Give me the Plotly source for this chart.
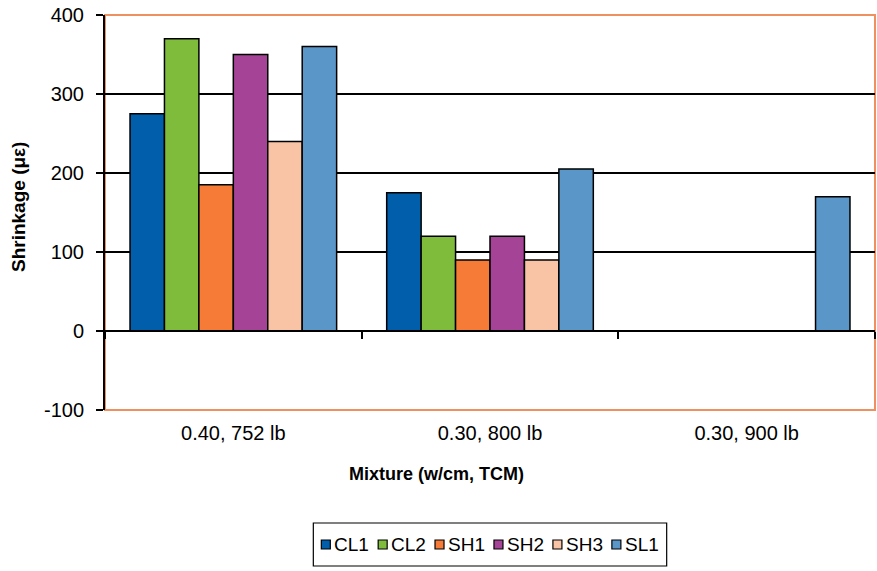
import plotly.graph_objects as go

categories = ["0.40, 752 lb", "0.30, 800 lb", "0.30, 900 lb"]
series_names = ["CL1", "CL2", "SH1", "SH2", "SH3", "SL1"]
CL1 = [275, 175, None]
CL2 = [370, 120, None]
SH1 = [185, 90, None]
SH2 = [350, 120, None]
SH3 = [240, 90, None]
SL1 = [360, 205, 170]
series_values = [CL1, CL2, SH1, SH2, SH3, SL1]
colors = ["#005EAB", "#80BC3C", "#F57B36", "#A54496", "#F9C4A6", "#5A97C8"]
y_ticks = [-100, 0, 100, 200, 300, 400]
y_tick_labels = [str(v) for v in y_ticks]

FONT = "Liberation Sans, Arial, sans-serif"
W, H = 877, 571
ML, MR, MT, MB = 105, 2, 15, 161
PW, PH = W - ML - MR, H - MT - MB


def px_x(px):
    return (px - ML) / PW


def px_y(py):
    return (H - MB - py) / PH


fig = go.Figure()
for name, vals, col in zip(series_names, series_values, colors):
    fig.add_trace(go.Bar(
        x=categories, y=vals, name=name, showlegend=False,
        marker=dict(color=col, line=dict(color="black", width=1.5)),
    ))

# helper invisible trace for the category axis drawn at y=0
fig.add_trace(go.Scatter(x=categories, y=[None] * len(categories), xaxis="x2",
                         showlegend=False, hoverinfo="skip", mode="markers"))

# ---- legend (boxed, below the chart) ----
LEG_FONT = 19
char_w = {"C": 0.722, "L": 0.556, "S": 0.667, "H": 0.722, "1": 0.556, "2": 0.556, "3": 0.556}
SQ, GAP_T, GAP_I, PAD = 9, 4, 9, 8
text_ws = [sum(char_w.get(c, 0.6) for c in n) * LEG_FONT for n in series_names]
total = sum(SQ + GAP_T + tw for tw in text_ws) + GAP_I * (len(series_names) - 1)
box_w = total + 2 * PAD
cx = ML + PW / 2
box_x0 = cx - box_w / 2
box_y0, box_y1 = 523, 566
cy = (box_y0 + box_y1) / 2

shapes = [
    dict(type="rect", xref="paper", yref="paper", x0=0, x1=1, y0=0, y1=1,
         line=dict(color="#EE9060", width=2), layer="below"),
    dict(type="rect", xref="paper", yref="paper",
         x0=px_x(box_x0), x1=px_x(box_x0 + box_w), y0=px_y(box_y1), y1=px_y(box_y0),
         line=dict(color="black", width=1.2), fillcolor="white"),
]
annotations = []
x = box_x0 + PAD
for name, col, tw in zip(series_names, colors, text_ws):
    shapes.append(dict(type="rect", xref="paper", yref="paper",
                       x0=px_x(x), x1=px_x(x + SQ), y0=px_y(cy + SQ / 2), y1=px_y(cy - SQ / 2),
                       line=dict(color="black", width=1.2), fillcolor=col))
    annotations.append(dict(text=name, xref="paper", yref="paper", x=px_x(x + SQ + GAP_T - 1),
                            y=px_y(cy), xanchor="left", yanchor="middle", showarrow=False,
                            font=dict(size=LEG_FONT), borderpad=0))
    x += SQ + GAP_T + tw + GAP_I

annotations += [
    dict(text="<b>Shrinkage (με)</b>", xref="paper", yref="paper",
         x=px_x(18), y=px_y(207), textangle=-90,
         showarrow=False, font=dict(size=19), xanchor="center", yanchor="middle"),
    dict(text="<b>Mixture (w/cm, TCM)</b>", xref="paper", yref="paper",
         x=px_x(436), y=px_y(474),
         showarrow=False, font=dict(size=18), xanchor="center", yanchor="middle"),
]

fig.update_layout(
    width=W, height=H,
    margin=dict(l=ML, r=MR, t=MT, b=MB),
    paper_bgcolor="white", plot_bgcolor="white",
    barmode="group", bargap=0.195, bargroupgap=0,
    font=dict(family=FONT, size=18, color="black"),
    showlegend=False,
    xaxis=dict(
        type="category", categoryarray=categories, range=[-0.5, 2.5],
        showline=False, ticks="", showgrid=False, zeroline=False,
        tickfont=dict(size=20), ticklabelstandoff=9,
    ),
    xaxis2=dict(
        type="category", categoryarray=categories, range=[-0.5, 2.5],
        overlaying="x", anchor="free", position=0.2,
        showline=True, linecolor="black", linewidth=2,
        ticks="outside", tickson="boundaries", ticklen=7, tickwidth=2, tickcolor="black",
        showticklabels=False, showgrid=False, zeroline=False,
    ),
    yaxis=dict(
        range=[-100, 400], tickvals=y_ticks, ticktext=y_tick_labels,
        showgrid=True, gridcolor="black", gridwidth=1.5,
        zeroline=False, showline=True, linecolor="black", linewidth=2,
        ticks="outside", ticklen=7, tickwidth=2, tickcolor="black",
        tickfont=dict(size=20), ticklabelstandoff=8,
    ),
    shapes=shapes,
    annotations=annotations,
)

fig.write_html("out.html")
